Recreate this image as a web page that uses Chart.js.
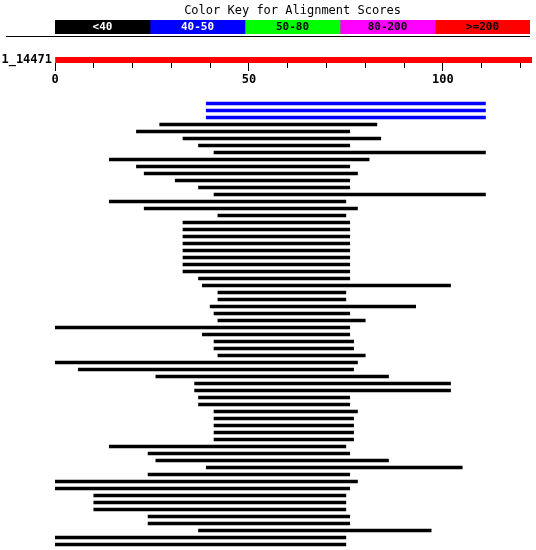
<!DOCTYPE html>
<html>
<head>
<meta charset="utf-8">
<script src="https://cdn.jsdelivr.net/npm/chart.js@4/dist/chart.umd.min.js"></script>
<style>
html,body{margin:0;padding:0;background:#fff;}
#wrap{position:relative;width:536px;height:550px;overflow:hidden;background:#fff;}
#wrap canvas{position:absolute;left:0;}
#sep{position:absolute;left:6px;top:36px;width:524px;height:1px;background:#000;}
</style>
</head>
<body>
<div id="wrap">
  <canvas id="key" width="536" height="36" style="top:0px"></canvas>
  <div id="sep"></div>
  <canvas id="query" width="536" height="50" style="top:40px"></canvas>
  <canvas id="hits" width="536" height="454" style="top:96px"></canvas>
</div>
<script>
// ---- data ----
const keyLabels = ['<40', '40-50', '50-80', '80-200', '>=200'];
const keyColors = ['#000000', '#0000ff', '#00ff00', '#ff00ff', '#ff0000'];
const keyTextColors = ['#ffffff', '#ffffff', '#000000', '#000000', '#000000'];
const keyTitle = 'Color Key for Alignment Scores';

const queryName = '1_14471';
const queryLength = 123;
const axisLabels = [0, 50, 100];

const hitStart = [39, 39, 39, 27, 21, 33, 37, 41, 14, 21, 23, 31, 37, 41, 14, 23,
  42, 33, 33, 33, 33, 33, 33, 33, 33, 37, 38, 42, 42, 40, 41, 42,
  0, 38, 41, 41, 42, 0, 6, 26, 36, 36, 37, 37, 41, 41, 41, 41,
  41, 14, 24, 26, 39, 24, 0, 0, 10, 10, 10, 24, 24, 37, 0, 0];
const hitEnd = [111, 111, 111, 83, 76, 84, 76, 111, 81, 76, 78, 76, 76, 111, 75, 78,
  75, 76, 76, 76, 76, 76, 76, 76, 76, 76, 102, 75, 75, 93, 76, 80,
  76, 76, 77, 77, 80, 78, 77, 86, 102, 102, 76, 76, 78, 77, 77, 77,
  77, 75, 76, 86, 105, 76, 78, 76, 75, 75, 75, 76, 76, 97, 75, 75];
const hitScore = ['40-50', '40-50', '40-50'].concat(Array(61).fill('<40'));

// ---- charts ----
const monoFont = 'DejaVu Sans Mono';

const keyTextPlugin = {
  id: 'keyText',
  afterDatasetsDraw(chart) {
    const ctx = chart.ctx;
    ctx.save();
    ctx.font = 'bold 11px "' + monoFont + '"';
    ctx.textAlign = 'center';
    ctx.textBaseline = 'middle';
    chart.data.datasets.forEach((ds, i) => {
      const meta = chart.getDatasetMeta(i);
      meta.data.forEach(bar => {
        ctx.fillStyle = keyTextColors[i];
        ctx.fillText(ds.label, (bar.x + bar.base) / 2, bar.y + 0.5);
      });
    });
    ctx.restore();
  }
};

new Chart(document.getElementById('key'), {
  type: 'bar',
  data: {
    labels: ['key'],
    datasets: keyLabels.map((l, i) => ({
      label: l, data: [1], backgroundColor: keyColors[i],
      categoryPercentage: 1, barPercentage: 1, borderWidth: 0
    }))
  },
  options: {
    responsive: false, animation: false, indexAxis: 'y',
    layout: { padding: { left: 55, right: 6, top: 0, bottom: 2 } },
    scales: {
      x: { stacked: true, display: false, min: 0, max: keyLabels.length },
      y: { stacked: true, display: false }
    },
    plugins: {
      legend: { display: false }, tooltip: { enabled: false },
      title: {
        display: true, text: keyTitle, fullSize: false, color: '#000',
        font: { family: monoFont, size: 12, weight: 'normal' },
        padding: { top: 4, bottom: 1.6 }
      }
    }
  },
  plugins: [keyTextPlugin]
});

new Chart(document.getElementById('query'), {
  type: 'bar',
  data: {
    labels: [queryName],
    datasets: [{ data: [[0, queryLength]], backgroundColor: '#ff0000',
      categoryPercentage: 1, barPercentage: 1, borderWidth: 0 }]
  },
  options: {
    responsive: false, animation: false, indexAxis: 'y',
    layout: { padding: { left: 0, right: 4, top: 17, bottom: 0 } },
    scales: {
      x: {
        type: 'linear', min: 0, max: queryLength, position: 'bottom',
        border: { display: false },
        grid: {
          display: true, drawOnChartArea: false, drawTicks: true, tickLength: 8,
          tickColor: '#000', tickWidth: 1,
          tickBorderDash: (c) => (c.tick && axisLabels.includes(c.tick.value)) ? [] : [5, 20]
        },
        ticks: {
          stepSize: 10, includeBounds: false, autoSkip: false, maxRotation: 0, minRotation: 0,
          padding: 2, color: '#000', font: { family: monoFont, size: 12, weight: 'bold' },
          callback: (v) => axisLabels.includes(v) ? String(v) : ''
        },
        afterFit: (s) => { s.height = 27; }
      },
      y: {
        type: 'category', position: 'left',
        border: { display: false }, grid: { display: false, drawTicks: false },
        ticks: { color: '#000', padding: 3, font: { family: monoFont, size: 12, weight: 'bold' } },
        afterFit: (s) => { s.width = 55; }
      }
    },
    plugins: { legend: { display: false }, tooltip: { enabled: false } }
  }
});

new Chart(document.getElementById('hits'), {
  type: 'bar',
  data: {
    labels: hitStart.map((_, i) => 'hit ' + (i + 1)),
    datasets: [{
      data: hitStart.map((s, i) => [s, hitEnd[i]]),
      backgroundColor: hitScore.map(c => keyColors[keyLabels.indexOf(c)]),
      barThickness: 3, borderWidth: 0
    }]
  },
  options: {
    responsive: false, animation: false, indexAxis: 'y',
    layout: { padding: { left: 55, right: 4, top: 4, bottom: 2 } },
    scales: {
      x: { type: 'linear', min: 0, max: queryLength, display: false },
      y: { type: 'category', display: false }
    },
    plugins: { legend: { display: false }, tooltip: { enabled: false } }
  }
});
</script>
</body>
</html>
